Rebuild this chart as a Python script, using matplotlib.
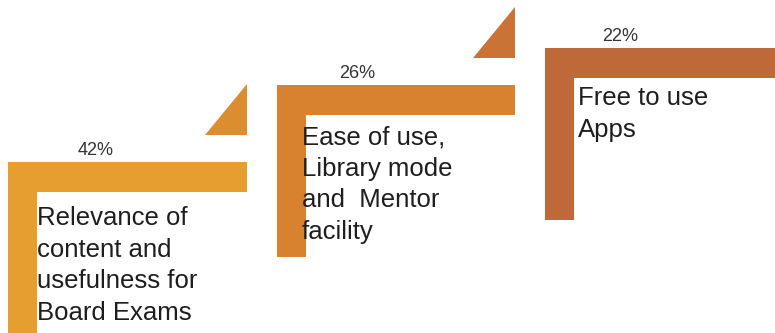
import matplotlib
matplotlib.use("Agg")
import matplotlib.pyplot as plt
from matplotlib.patches import Rectangle, Polygon

# Survey shares and the reason behind each step
shares = [42, 26, 22]
reasons = [
    "Relevance of\ncontent and\nusefulness for\nBoard Exams",
    "Ease of use,\nLibrary mode\nand  Mentor\nfacility",
    "Free to use\nApps",
]

# Layout of each step (pixel units, y grows downward)
step_left = [8, 277, 545]
step_top = [162, 85, 48]
step_right = [247, 515, 790]
step_bottom = [340, 257, 220]
label_dx = [88, 80, 75]
text_dx = [29, 25, 33]
text_dy = [44, 40, 38]
has_wedge = [True, True, False]
bar_w = 29
bar_colors = ["#E59E2F", "#D8822F", "#BF6839"]
tri_colors = ["#DC8D2F", "#CB7236", "#B85F3A"]

plt.rcParams["font.family"] = ["Liberation Sans", "DejaVu Sans"]

fig = plt.figure(figsize=(7.75, 3.33), dpi=100)
ax = fig.add_axes([0, 0, 1, 1])
ax.set_xlim(0, 775)
ax.set_ylim(333, 0)
ax.axis("off")

for i, (share, reason) in enumerate(zip(shares, reasons)):
    x0, y0 = step_left[i], step_top[i]
    x1, y1 = step_right[i], step_bottom[i]
    # vertical riser and horizontal tread
    ax.add_patch(Rectangle((x0, y0), bar_w, y1 - y0, color=bar_colors[i], lw=0))
    ax.add_patch(Rectangle((x0, y0), x1 - x0, bar_w + 1, color=bar_colors[i], lw=0))
    # small wedge above the end of each tread
    if has_wedge[i]:
        ax.add_patch(Polygon([(x1 - 42, y0 - 27), (x1, y0 - 27), (x1, y0 - 78)],
                             closed=True, color=tri_colors[i], lw=0))
    ax.text(x0 + label_dx[i], y0 - 3, f"{share}%", ha="center", va="bottom",
            fontsize=13, color="#333333")
    ax.text(x0 + text_dx[i], y0 + text_dy[i], reason, ha="left", va="top",
            fontsize=18.5, color="#1e1e1e", linespacing=1.4)

fig.savefig("out.png", dpi=100)
